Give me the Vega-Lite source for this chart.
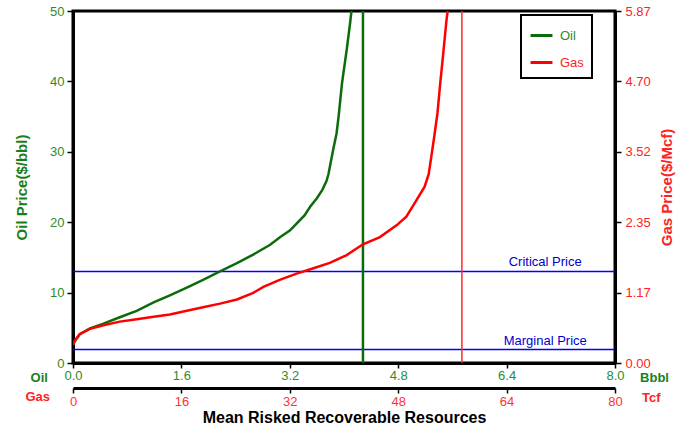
{
  "$schema": "https://vega.github.io/schema/vega-lite/v6.json",
  "width": 542,
  "height": 352,
  "autosize": {"type": "none"},
  "padding": {"left": 73, "top": 11, "right": 75, "bottom": 67},
  "background": "white",
  "config": {
    "view": {"stroke": "black", "strokeWidth": 3},
    "font": "Liberation Sans",
    "axis": {"grid": false, "domainColor": "black", "domainWidth": 3, "tickColor": "black", "tickWidth": 1.5, "labelFont": "Liberation Sans", "titleFont": "Liberation Sans", "labelOverlap": false, "labelFlush": false, "labelBound": false}
  },
  "layer": [
    {
      "layer": [
        {
          "data": {"values": [
            {"price": 13, "name": "Critical Price"},
            {"price": 1.9, "name": "Marginal Price"}
          ]},
          "mark": {"type": "rule", "color": "blue", "strokeWidth": 1.5},
          "encoding": {
            "y": {"field": "price", "type": "quantitative"}
          }
        },
        {
          "data": {"values": [
            {"price": 13, "name": "Critical Price"},
            {"price": 1.9, "name": "Marginal Price"}
          ]},
          "mark": {"type": "text", "color": "#0000cc", "fontSize": 13, "baseline": "bottom", "align": "center", "dy": -2},
          "encoding": {
            "x": {"datum": 6.97, "type": "quantitative"},
            "y": {"field": "price", "type": "quantitative"},
            "text": {"field": "name"}
          }
        },
        {
          "data": {"values": [{"bbl": 4.28}]},
          "mark": {"type": "rule", "color": "#0c6c0c", "strokeWidth": 2.5},
          "encoding": {
            "x": {"field": "bbl", "type": "quantitative"}
          }
        },
        {
          "data": {"values": [
            {"bbl": 0, "price": 2.6}, {"bbl": 0.03, "price": 3.1}, {"bbl": 0.1, "price": 4.1},
            {"bbl": 0.25, "price": 4.9}, {"bbl": 0.45, "price": 5.6}, {"bbl": 0.69, "price": 6.5},
            {"bbl": 0.94, "price": 7.4}, {"bbl": 1.19, "price": 8.6}, {"bbl": 1.43, "price": 9.6},
            {"bbl": 1.68, "price": 10.7}, {"bbl": 1.92, "price": 11.8}, {"bbl": 2.17, "price": 13.0},
            {"bbl": 2.42, "price": 14.2}, {"bbl": 2.66, "price": 15.4}, {"bbl": 2.91, "price": 16.8},
            {"bbl": 3.06, "price": 17.9}, {"bbl": 3.2, "price": 18.8}, {"bbl": 3.3, "price": 19.8},
            {"bbl": 3.42, "price": 21.0}, {"bbl": 3.5, "price": 22.2}, {"bbl": 3.6, "price": 23.4},
            {"bbl": 3.68, "price": 24.6}, {"bbl": 3.74, "price": 25.8}, {"bbl": 3.77, "price": 26.8},
            {"bbl": 3.8, "price": 28.3}, {"bbl": 3.84, "price": 30.3}, {"bbl": 3.89, "price": 32.6},
            {"bbl": 3.92, "price": 35.0}, {"bbl": 3.97, "price": 39.7}, {"bbl": 4.04, "price": 44.5},
            {"bbl": 4.09, "price": 48.3}, {"bbl": 4.11, "price": 50}
          ]},
          "mark": {"type": "line", "strokeWidth": 2.5, "clip": true},
          "encoding": {
            "x": {"field": "bbl", "type": "quantitative", "scale": {"domain": [0, 8], "nice": false},
              "axis": {"orient": "bottom", "values": [0, 1.6, 3.2, 4.8, 6.4, 8], "format": ".1f", "labelColor": "#2e8b2e", "labelFontSize": 13, "tickSize": 5, "labelPadding": 1, "title": null}},
            "y": {"field": "price", "type": "quantitative", "scale": {"domain": [0, 50], "nice": false},
              "axis": {"orient": "left", "values": [0, 10, 20, 30, 40, 50], "labelColor": "#2e8b2e", "labelFontSize": 13, "tickSize": 6, "labelPadding": 3, "title": "Oil Price($/bbl)", "titleColor": "#1a7f1a", "titleFontSize": 15, "titleFontWeight": "bold", "titlePadding": 20}},
            "color": {"datum": "Oil", "type": "nominal",
              "scale": {"domain": ["Oil", "Gas"], "range": ["#0c6c0c", "#ff0000"]},
              "legend": {"orient": "none", "legendX": 448, "legendY": 4, "title": null, "strokeColor": "black", "fillColor": "white", "padding": 8, "symbolType": "stroke", "symbolSize": 480, "symbolStrokeWidth": 3, "labelFontSize": 13, "rowPadding": 7, "labelOffset": 6,
                "encode": {
                  "legend": {"update": {"strokeWidth": {"value": 2}}},
                  "labels": {"update": {"fill": {"signal": "datum.label === 'Oil' ? '#2e8b2e' : '#ff2222'"}}}}}}
          }
        },
        {
          "data": {"values": [{"name": "Oil"}]},
          "mark": {"type": "text", "fontSize": 13, "fontWeight": "bold", "align": "right", "baseline": "middle", "color": "#1a7f1a"},
          "encoding": {"x": {"datum": -0.37, "type": "quantitative"}, "y": {"datum": -2.1, "type": "quantitative"}, "text": {"field": "name"}}
        },
        {
          "data": {"values": [{"name": "Gas"}]},
          "mark": {"type": "text", "fontSize": 13, "fontWeight": "bold", "align": "right", "baseline": "middle", "color": "#ff2222"},
          "encoding": {"x": {"datum": -0.34, "type": "quantitative"}, "y": {"datum": -4.8, "type": "quantitative"}, "text": {"field": "name"}}
        },
        {
          "data": {"values": [{"name": "Bbbl"}]},
          "mark": {"type": "text", "fontSize": 13, "fontWeight": "bold", "align": "left", "baseline": "middle", "color": "#1a7f1a"},
          "encoding": {"x": {"datum": 8.37, "type": "quantitative"}, "y": {"datum": -2.2, "type": "quantitative"}, "text": {"field": "name"}}
        },
        {
          "data": {"values": [{"name": "Tcf"}]},
          "mark": {"type": "text", "fontSize": 13, "fontWeight": "bold", "align": "left", "baseline": "middle", "color": "#ff2222"},
          "encoding": {"x": {"datum": 8.4, "type": "quantitative"}, "y": {"datum": -4.95, "type": "quantitative"}, "text": {"field": "name"}}
        }
      ]
    },
    {
      "layer": [
        {
          "data": {"values": [{"tcf": 57.4}]},
          "mark": {"type": "rule", "color": "#ff2a2a", "strokeWidth": 1.5},
          "encoding": {
            "x": {"field": "tcf", "type": "quantitative"}
          }
        },
        {
          "data": {"values": [
            {"tcf": 0, "gasprice": 0.3}, {"tcf": 0.3, "gasprice": 0.38}, {"tcf": 1.0, "gasprice": 0.48},
            {"tcf": 2.5, "gasprice": 0.57}, {"tcf": 4.5, "gasprice": 0.63}, {"tcf": 6.9, "gasprice": 0.69},
            {"tcf": 9.4, "gasprice": 0.73}, {"tcf": 11.9, "gasprice": 0.77}, {"tcf": 14.3, "gasprice": 0.81},
            {"tcf": 16.8, "gasprice": 0.87}, {"tcf": 19.2, "gasprice": 0.93}, {"tcf": 21.7, "gasprice": 0.99},
            {"tcf": 24.2, "gasprice": 1.06}, {"tcf": 26.6, "gasprice": 1.17}, {"tcf": 28.1, "gasprice": 1.27},
            {"tcf": 30.6, "gasprice": 1.39}, {"tcf": 33.0, "gasprice": 1.49}, {"tcf": 35.5, "gasprice": 1.58},
            {"tcf": 37.9, "gasprice": 1.67}, {"tcf": 40.4, "gasprice": 1.8}, {"tcf": 42.8, "gasprice": 1.98},
            {"tcf": 45.3, "gasprice": 2.1}, {"tcf": 47.8, "gasprice": 2.3}, {"tcf": 49.2, "gasprice": 2.44},
            {"tcf": 50.5, "gasprice": 2.68}, {"tcf": 51.9, "gasprice": 2.94}, {"tcf": 52.5, "gasprice": 3.15},
            {"tcf": 52.9, "gasprice": 3.45}, {"tcf": 53.3, "gasprice": 3.76}, {"tcf": 53.8, "gasprice": 4.17},
            {"tcf": 54.2, "gasprice": 4.66}, {"tcf": 54.7, "gasprice": 5.22}, {"tcf": 55.1, "gasprice": 5.69},
            {"tcf": 55.3, "gasprice": 5.87}
          ]},
          "mark": {"type": "line", "strokeWidth": 2.5, "clip": true},
          "encoding": {
            "x": {"field": "tcf", "type": "quantitative", "scale": {"domain": [0, 80], "nice": false},
              "axis": {"orient": "bottom", "offset": 25, "values": [0, 16, 32, 48, 64, 80], "format": "d", "labelColor": "#ff3333", "labelFontSize": 13, "tickSize": 5, "labelPadding": 2,
                "title": "Mean Risked Recoverable Resources", "titleColor": "black", "titleFontSize": 16, "titleFontWeight": "bold", "titlePadding": 1}},
            "y": {"field": "gasprice", "type": "quantitative", "scale": {"domain": [0, 5.87], "nice": false},
              "axis": {"orient": "right", "values": [0, 1.17, 2.35, 3.52, 4.7, 5.87], "format": ".2f", "labelColor": "#ff2222", "labelFontSize": 13, "tickSize": 6, "labelPadding": 4,
                "title": "Gas Price($/Mcf)", "titleColor": "#ff2222", "titleFontSize": 15, "titleFontWeight": "bold", "titleAngle": 270, "titlePadding": 24}},
            "color": {"datum": "Gas", "type": "nominal"}
          }
        }
      ]
    }
  ],
  "resolve": {"scale": {"x": "independent", "y": "independent"}}
}
